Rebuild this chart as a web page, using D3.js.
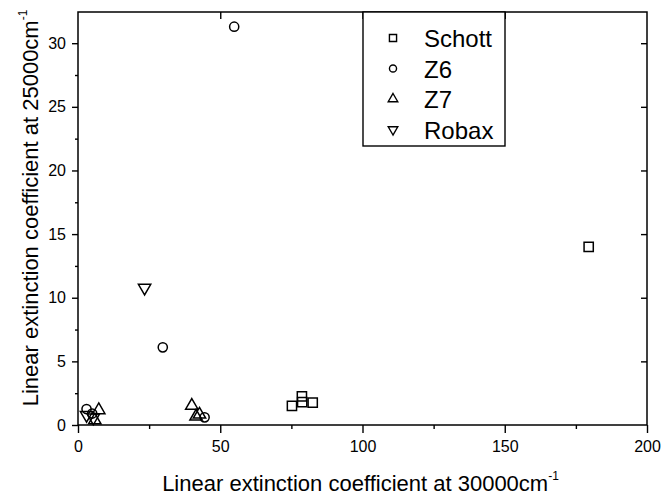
<!DOCTYPE html>
<html>
<head>
<meta charset="utf-8">
<script src="https://cdn.jsdelivr.net/npm/d3@7"></script>
<style>
  html, body { margin: 0; padding: 0; background: #fff; }
  svg { display: block; font-family: "Liberation Sans", Arial, Helvetica, sans-serif; }
</style>
</head>
<body>
<svg id="chart" width="661" height="498"></svg>
<script>
// Linear extinction coefficients (cm^-1) of glass-ceramic samples
const seriesNames = ["Schott", "Z6", "Z7", "Robax"];
const schottX = [75.2, 78.7, 78.8, 82.5, 179.5];
const schottY = [1.5, 2.25, 1.8, 1.75, 14.0];
const z6X = [3.0, 5.0, 29.8, 44.5, 54.9];
const z6Y = [1.25, 0.9, 6.1, 0.6, 31.3];
const z7X = [7.3, 5.9, 40.0, 41.5, 42.7];
const z7Y = [1.25, 0.45, 1.6, 0.75, 0.9];
const robaxX = [3.0, 5.4, 23.4];
const robaxY = [0.7, 0.5, 10.7];
const xTicks = [0, 50, 100, 150, 200];
const yTicks = [0, 5, 10, 15, 20, 25, 30];

const seriesX = [schottX, z6X, z7X, robaxX];
const seriesY = [schottY, z6Y, z7Y, robaxY];
const seriesSymbols = [d3.symbolSquare, d3.symbolCircle, d3.symbolTriangle, d3.symbolTriangle];
const seriesRotate = [0, 0, 0, 180];
const symbolArea = [85, 66, 66, 66];

const svg = d3.select("#chart");
const plotL = 78, plotR = 647, plotT = 12, plotB = 425;

const x = d3.scaleLinear().domain([0, 200]).range([plotL, plotR]);
const y = d3.scaleLinear().domain([0, 30]).range([plotB, 43.2]);
const yMax = y.invert(plotT);

// frame
svg.append("rect")
  .attr("x", plotL).attr("y", plotT)
  .attr("width", plotR - plotL).attr("height", plotB - plotT)
  .attr("fill", "none").attr("stroke", "#000").attr("stroke-width", 1.5);

const minorX = d3.range(25, 200, 50);
const minorY = d3.range(2.5, yMax, 5);

// bottom axis
svg.append("g").attr("transform", `translate(0,${plotB})`)
  .call(d3.axisBottom(x).tickValues(xTicks).tickSize(8).tickPadding(8).tickFormat(d3.format("d")));
svg.append("g").attr("transform", `translate(0,${plotB})`)
  .call(d3.axisBottom(x).tickValues(minorX).tickSize(4).tickFormat(""));
// left axis
svg.append("g").attr("transform", `translate(${plotL},0)`)
  .call(d3.axisLeft(y).tickValues(yTicks).tickSize(6).tickPadding(6).tickFormat(d3.format("d")));
svg.append("g").attr("transform", `translate(${plotL},0)`)
  .call(d3.axisLeft(y).tickValues(minorY).tickSize(3).tickFormat(""));
// mirrored ticks on top and right edges
svg.append("g").attr("transform", `translate(0,${plotT})`)
  .call(d3.axisBottom(x).tickValues(xTicks.slice(1, -1)).tickSize(7).tickFormat(""));
svg.append("g").attr("transform", `translate(${plotR},0)`)
  .call(d3.axisLeft(y).tickValues(yTicks.slice(1)).tickSize(6).tickFormat(""));

svg.selectAll(".domain").remove();
svg.selectAll(".tick line").attr("stroke", "#000").attr("stroke-width", 1.4);
svg.selectAll(".tick text").attr("fill", "#000").style("font-size", "16px")
  .style("font-family", "'Liberation Sans', Arial, sans-serif");

// points
seriesNames.forEach((name, i) => {
  const pts = seriesX[i].map((v, j) => [v, seriesY[i][j]]);
  const sym = d3.symbol().type(seriesSymbols[i]).size(symbolArea[i]);
  const isTri = seriesSymbols[i] === d3.symbolTriangle;
  svg.append("g").attr("class", "series")
    .selectAll("path").data(pts).join("path")
    .attr("d", sym)
    .attr("transform", d => `translate(${x(d[0])},${y(d[1]) + (isTri ? (seriesRotate[i] ? -1 : 1) : 0)}) rotate(${seriesRotate[i]})`)
    .attr("fill", "none").attr("stroke", "#000").attr("stroke-width", 1.5);
});

// legend
const lg = svg.append("g");
lg.append("rect")
  .attr("x", 363).attr("y", plotT).attr("width", 142).attr("height", 134)
  .attr("fill", "#fff").attr("stroke", "#000").attr("stroke-width", 1.4);
seriesNames.forEach((name, i) => {
  const cy = 38 + i * 30.5;
  const sym = d3.symbol().type(seriesSymbols[i]).size(symbolArea[i] * 0.6);
  lg.append("path").attr("d", sym)
    .attr("transform", `translate(393,${cy}) rotate(${seriesRotate[i]})`)
    .attr("fill", "none").attr("stroke", "#000").attr("stroke-width", 1.4);
  lg.append("text").attr("x", 424).attr("y", cy + 9)
    .style("font-size", "24px").attr("fill", "#000").text(name);
});

// axis titles
const xt = svg.append("text").attr("x", (plotL + plotR) / 2 - 2).attr("y", 491)
  .attr("text-anchor", "middle").style("font-size", "22px").attr("fill", "#000");
xt.append("tspan").text("Linear extinction coefficient at 30000cm");
xt.append("tspan").attr("dy", -11).style("font-size", "12px").text("-1");

const yt = svg.append("text")
  .attr("transform", `translate(38,208) rotate(-90)`)
  .attr("text-anchor", "middle").style("font-size", "22px").attr("fill", "#000");
yt.append("tspan").text("Linear extinction coefficient at 25000cm");
yt.append("tspan").attr("dy", -11).style("font-size", "12px").text("-1");
</script>
</body>
</html>
